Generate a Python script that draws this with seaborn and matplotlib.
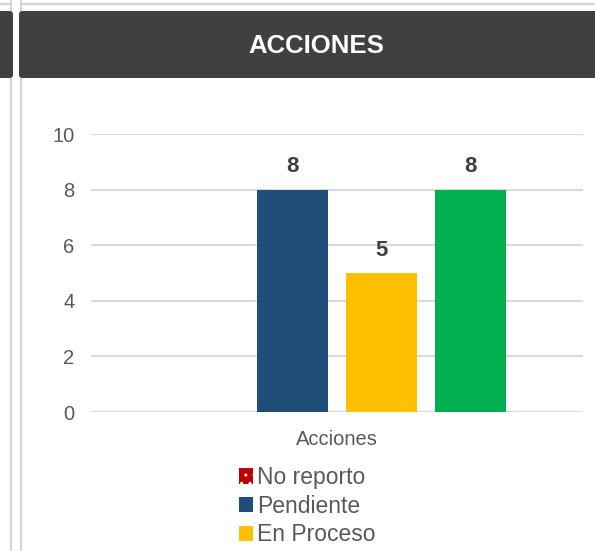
import matplotlib
matplotlib.use("Agg")
import matplotlib.pyplot as plt
from matplotlib.patches import Patch, FancyBboxPatch
from matplotlib.lines import Line2D
import seaborn as sns
import pandas as pd

# data
categoria = ["Acciones"]
estados = ["No reporto", "Pendiente", "En Proceso", "Cerrado"]
valores = [0, 8, 5, 8]
colores = ["#C00000", "#1F4E79", "#FFC000", "#00B050"]
yticks = [0, 2, 4, 6, 8, 10]
titulo = "ACCIONES"

sns.set_theme(style="white")
plt.rcParams["font.family"] = ["Liberation Sans", "DejaVu Sans"]
plt.rcParams["hatch.color"] = "white"
plt.rcParams["hatch.linewidth"] = 1.0

df = pd.DataFrame({"cat": categoria * len(estados), "estado": estados, "valor": valores})

W, H = 595, 551
fig = plt.figure(figsize=(W / 100, H / 100), dpi=100)
fig.patch.set_facecolor("white")

# frame decorations of the dashboard screenshot
def px(x, y):
    return x / W, 1 - y / H

for x0 in (11, 20.5):
    fig.add_artist(Line2D([x0 / W, x0 / W], [0, 1], transform=fig.transFigure,
                          color="#D4D4D4", lw=1.6, zorder=0))
fig.add_artist(Line2D([0, 11 / W], [1 - 3.5 / H] * 2, transform=fig.transFigure,
                      color="#D4D4D4", lw=1.6, zorder=0))
fig.add_artist(Line2D([20.5 / W, 1], [1 - 3.5 / H] * 2, transform=fig.transFigure,
                      color="#D4D4D4", lw=1.6, zorder=0))
fig.add_artist(FancyBboxPatch(px(19, 78), (W + 10 - 19) / W, 67 / H,
                              boxstyle="round,pad=0,rounding_size=0.006",
                              transform=fig.transFigure, fc="#404040", ec="none", zorder=1))
fig.add_artist(FancyBboxPatch(px(-10, 78), 23 / W, 67 / H,
                              boxstyle="round,pad=0,rounding_size=0.006",
                              transform=fig.transFigure, fc="#404040", ec="none", zorder=1))
fig.text(316 / W, 1 - 46 / H, titulo, color="white", fontsize=18.5, fontweight="bold",
         ha="center", va="center", zorder=2)

ax = fig.add_axes([91 / W, 1 - 412 / H, 492 / W, 278 / H])
sns.barplot(data=df, x="cat", y="valor", hue="estado", hue_order=estados,
            palette=colores, width=0.724, gap=0.2, saturation=1, legend=False,
            linewidth=0, ax=ax)

ax.containers[0][0].set_hatch("..")
for cont, v in zip(ax.containers, valores):
    if v > 0:
        ax.bar_label(cont, labels=[str(v)], padding=9, fontsize=16,
                     fontweight="bold", color="#404040")

ax.set_xlim(-0.5, 0.5)
ax.set_ylim(0, 10)
ax.set_yticks(yticks)
ax.yaxis.grid(True, color="#D9D9D9", lw=1.5)
ax.set_axisbelow(True)
for s in ax.spines.values():
    s.set_visible(False)
ax.axhline(0, color="#D9D9D9", lw=1.5, zorder=0.5)
ax.tick_params(axis="y", length=0, pad=12, labelsize=14.5, labelcolor="#595959")
ax.tick_params(axis="x", length=0, pad=13, labelsize=14.5, labelcolor="#595959")
ax.set_xlabel("")
ax.set_ylabel("")

handles = [Patch(facecolor=c, edgecolor="white", lw=0, label=e)
           for c, e in zip(colores[:3], estados[:3])]
handles[0].set_hatch("..")
fig.legend(handles=handles, loc="upper left", bbox_to_anchor=(239 / W, 1 - 466 / H),
           frameon=False, fontsize=16.5, labelcolor="#595959", handlelength=0.6,
           handleheight=0.65, handletextpad=0.2, labelspacing=0.25, borderpad=0,
           borderaxespad=0)

fig.savefig("out.png", dpi=100)
